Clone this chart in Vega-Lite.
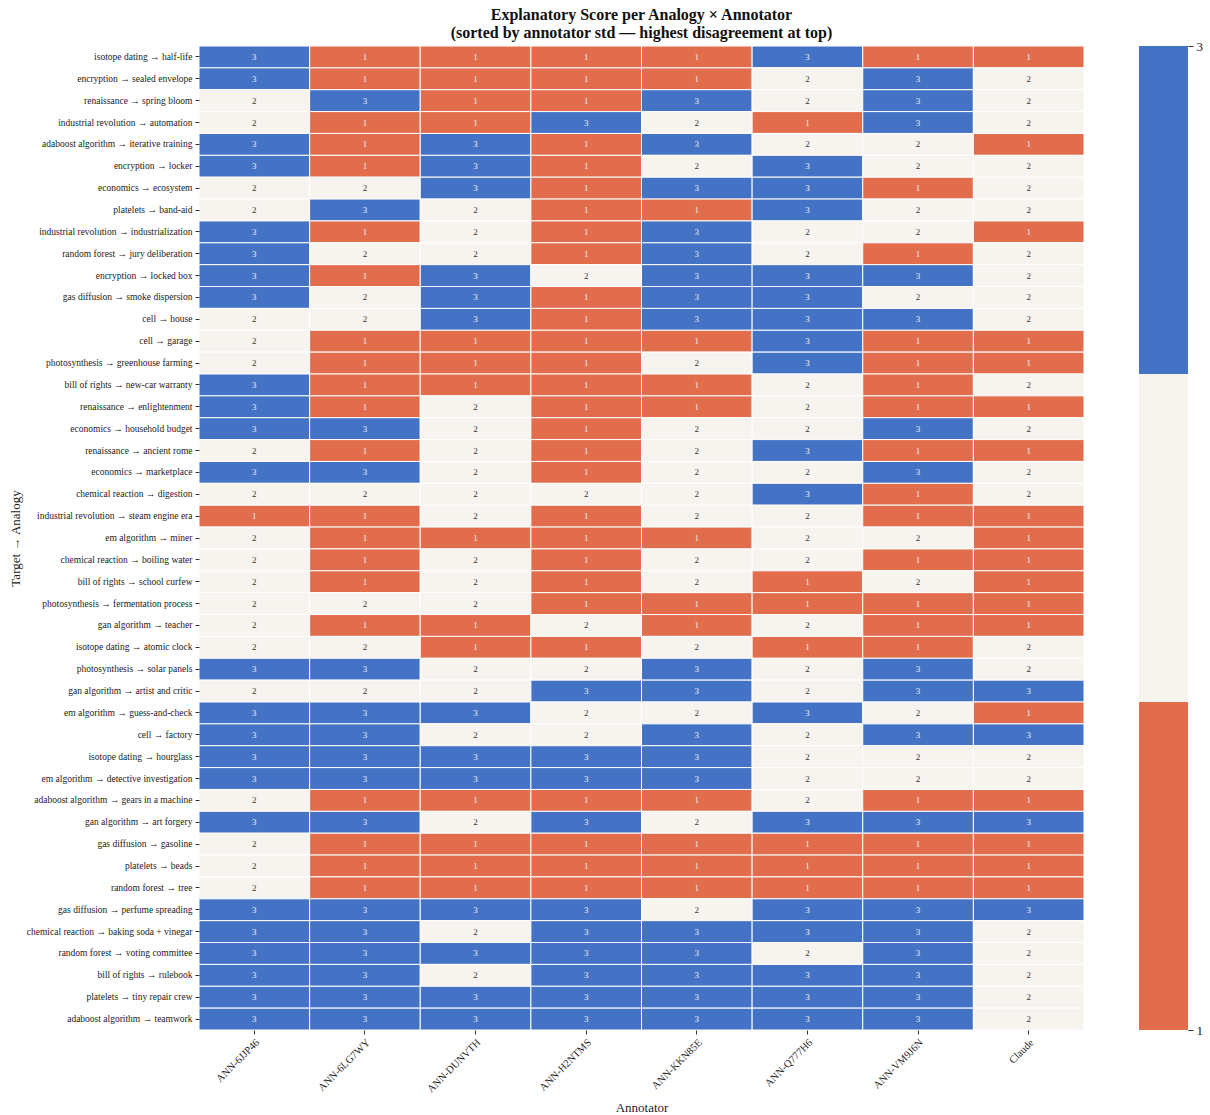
{
  "$schema": "https://vega.github.io/schema/vega-lite/v6.json",
  "padding": {"left": 9, "top": 6, "right": 5, "bottom": 5},
  "background": "white",
  "spacing": 55,
  "bounds": "flush",
  "config": {
    "font": "Liberation Serif",
    "view": {"stroke": null},
    "axis": {"labelFont": "Liberation Serif", "titleFont": "Liberation Serif", "titleFontWeight": "normal", "labelColor": "#222", "titleColor": "#222", "tickColor": "#333", "domain": false, "grid": false}
  },
  "datasets": {
    "bands": [
      {"score": 1, "lo": 1, "hi": 1.6667},
      {"score": 2, "lo": 1.6667, "hi": 2.3333},
      {"score": 3, "lo": 2.3333, "hi": 3}
    ]
  },
  "hconcat": [
    {
      "width": 885,
      "height": 984,
      "title": {
        "text": ["Explanatory Score per Analogy × Annotator", "(sorted by annotator std — highest disagreement at top)"],
        "font": "Liberation Serif",
        "fontSize": 16,
        "fontWeight": "bold",
        "color": "#111",
        "frame": "group",
        "anchor": "middle",
        "offset": 5,
        "lineHeight": 18
      },
      "data": {
        "values": [
          {"analogy": "isotope dating → half-life", "annotator": "ANN-6JJP46", "score": 3},
          {"analogy": "isotope dating → half-life", "annotator": "ANN-6LG7WY", "score": 1},
          {"analogy": "isotope dating → half-life", "annotator": "ANN-DUNVTH", "score": 1},
          {"analogy": "isotope dating → half-life", "annotator": "ANN-H2NTMS", "score": 1},
          {"analogy": "isotope dating → half-life", "annotator": "ANN-KKN85E", "score": 1},
          {"analogy": "isotope dating → half-life", "annotator": "ANN-Q777H6", "score": 3},
          {"analogy": "isotope dating → half-life", "annotator": "ANN-VM9J6N", "score": 1},
          {"analogy": "isotope dating → half-life", "annotator": "Claude", "score": 1},
          {"analogy": "encryption → sealed envelope", "annotator": "ANN-6JJP46", "score": 3},
          {"analogy": "encryption → sealed envelope", "annotator": "ANN-6LG7WY", "score": 1},
          {"analogy": "encryption → sealed envelope", "annotator": "ANN-DUNVTH", "score": 1},
          {"analogy": "encryption → sealed envelope", "annotator": "ANN-H2NTMS", "score": 1},
          {"analogy": "encryption → sealed envelope", "annotator": "ANN-KKN85E", "score": 1},
          {"analogy": "encryption → sealed envelope", "annotator": "ANN-Q777H6", "score": 2},
          {"analogy": "encryption → sealed envelope", "annotator": "ANN-VM9J6N", "score": 3},
          {"analogy": "encryption → sealed envelope", "annotator": "Claude", "score": 2},
          {"analogy": "renaissance → spring bloom", "annotator": "ANN-6JJP46", "score": 2},
          {"analogy": "renaissance → spring bloom", "annotator": "ANN-6LG7WY", "score": 3},
          {"analogy": "renaissance → spring bloom", "annotator": "ANN-DUNVTH", "score": 1},
          {"analogy": "renaissance → spring bloom", "annotator": "ANN-H2NTMS", "score": 1},
          {"analogy": "renaissance → spring bloom", "annotator": "ANN-KKN85E", "score": 3},
          {"analogy": "renaissance → spring bloom", "annotator": "ANN-Q777H6", "score": 2},
          {"analogy": "renaissance → spring bloom", "annotator": "ANN-VM9J6N", "score": 3},
          {"analogy": "renaissance → spring bloom", "annotator": "Claude", "score": 2},
          {"analogy": "industrial revolution → automation", "annotator": "ANN-6JJP46", "score": 2},
          {"analogy": "industrial revolution → automation", "annotator": "ANN-6LG7WY", "score": 1},
          {"analogy": "industrial revolution → automation", "annotator": "ANN-DUNVTH", "score": 1},
          {"analogy": "industrial revolution → automation", "annotator": "ANN-H2NTMS", "score": 3},
          {"analogy": "industrial revolution → automation", "annotator": "ANN-KKN85E", "score": 2},
          {"analogy": "industrial revolution → automation", "annotator": "ANN-Q777H6", "score": 1},
          {"analogy": "industrial revolution → automation", "annotator": "ANN-VM9J6N", "score": 3},
          {"analogy": "industrial revolution → automation", "annotator": "Claude", "score": 2},
          {"analogy": "adaboost algorithm → iterative training", "annotator": "ANN-6JJP46", "score": 3},
          {"analogy": "adaboost algorithm → iterative training", "annotator": "ANN-6LG7WY", "score": 1},
          {"analogy": "adaboost algorithm → iterative training", "annotator": "ANN-DUNVTH", "score": 3},
          {"analogy": "adaboost algorithm → iterative training", "annotator": "ANN-H2NTMS", "score": 1},
          {"analogy": "adaboost algorithm → iterative training", "annotator": "ANN-KKN85E", "score": 3},
          {"analogy": "adaboost algorithm → iterative training", "annotator": "ANN-Q777H6", "score": 2},
          {"analogy": "adaboost algorithm → iterative training", "annotator": "ANN-VM9J6N", "score": 2},
          {"analogy": "adaboost algorithm → iterative training", "annotator": "Claude", "score": 1},
          {"analogy": "encryption → locker", "annotator": "ANN-6JJP46", "score": 3},
          {"analogy": "encryption → locker", "annotator": "ANN-6LG7WY", "score": 1},
          {"analogy": "encryption → locker", "annotator": "ANN-DUNVTH", "score": 3},
          {"analogy": "encryption → locker", "annotator": "ANN-H2NTMS", "score": 1},
          {"analogy": "encryption → locker", "annotator": "ANN-KKN85E", "score": 2},
          {"analogy": "encryption → locker", "annotator": "ANN-Q777H6", "score": 3},
          {"analogy": "encryption → locker", "annotator": "ANN-VM9J6N", "score": 2},
          {"analogy": "encryption → locker", "annotator": "Claude", "score": 2},
          {"analogy": "economics → ecosystem", "annotator": "ANN-6JJP46", "score": 2},
          {"analogy": "economics → ecosystem", "annotator": "ANN-6LG7WY", "score": 2},
          {"analogy": "economics → ecosystem", "annotator": "ANN-DUNVTH", "score": 3},
          {"analogy": "economics → ecosystem", "annotator": "ANN-H2NTMS", "score": 1},
          {"analogy": "economics → ecosystem", "annotator": "ANN-KKN85E", "score": 3},
          {"analogy": "economics → ecosystem", "annotator": "ANN-Q777H6", "score": 3},
          {"analogy": "economics → ecosystem", "annotator": "ANN-VM9J6N", "score": 1},
          {"analogy": "economics → ecosystem", "annotator": "Claude", "score": 2},
          {"analogy": "platelets → band-aid", "annotator": "ANN-6JJP46", "score": 2},
          {"analogy": "platelets → band-aid", "annotator": "ANN-6LG7WY", "score": 3},
          {"analogy": "platelets → band-aid", "annotator": "ANN-DUNVTH", "score": 2},
          {"analogy": "platelets → band-aid", "annotator": "ANN-H2NTMS", "score": 1},
          {"analogy": "platelets → band-aid", "annotator": "ANN-KKN85E", "score": 1},
          {"analogy": "platelets → band-aid", "annotator": "ANN-Q777H6", "score": 3},
          {"analogy": "platelets → band-aid", "annotator": "ANN-VM9J6N", "score": 2},
          {"analogy": "platelets → band-aid", "annotator": "Claude", "score": 2},
          {"analogy": "industrial revolution → industrialization", "annotator": "ANN-6JJP46", "score": 3},
          {"analogy": "industrial revolution → industrialization", "annotator": "ANN-6LG7WY", "score": 1},
          {"analogy": "industrial revolution → industrialization", "annotator": "ANN-DUNVTH", "score": 2},
          {"analogy": "industrial revolution → industrialization", "annotator": "ANN-H2NTMS", "score": 1},
          {"analogy": "industrial revolution → industrialization", "annotator": "ANN-KKN85E", "score": 3},
          {"analogy": "industrial revolution → industrialization", "annotator": "ANN-Q777H6", "score": 2},
          {"analogy": "industrial revolution → industrialization", "annotator": "ANN-VM9J6N", "score": 2},
          {"analogy": "industrial revolution → industrialization", "annotator": "Claude", "score": 1},
          {"analogy": "random forest → jury deliberation", "annotator": "ANN-6JJP46", "score": 3},
          {"analogy": "random forest → jury deliberation", "annotator": "ANN-6LG7WY", "score": 2},
          {"analogy": "random forest → jury deliberation", "annotator": "ANN-DUNVTH", "score": 2},
          {"analogy": "random forest → jury deliberation", "annotator": "ANN-H2NTMS", "score": 1},
          {"analogy": "random forest → jury deliberation", "annotator": "ANN-KKN85E", "score": 3},
          {"analogy": "random forest → jury deliberation", "annotator": "ANN-Q777H6", "score": 2},
          {"analogy": "random forest → jury deliberation", "annotator": "ANN-VM9J6N", "score": 1},
          {"analogy": "random forest → jury deliberation", "annotator": "Claude", "score": 2},
          {"analogy": "encryption → locked box", "annotator": "ANN-6JJP46", "score": 3},
          {"analogy": "encryption → locked box", "annotator": "ANN-6LG7WY", "score": 1},
          {"analogy": "encryption → locked box", "annotator": "ANN-DUNVTH", "score": 3},
          {"analogy": "encryption → locked box", "annotator": "ANN-H2NTMS", "score": 2},
          {"analogy": "encryption → locked box", "annotator": "ANN-KKN85E", "score": 3},
          {"analogy": "encryption → locked box", "annotator": "ANN-Q777H6", "score": 3},
          {"analogy": "encryption → locked box", "annotator": "ANN-VM9J6N", "score": 3},
          {"analogy": "encryption → locked box", "annotator": "Claude", "score": 2},
          {"analogy": "gas diffusion → smoke dispersion", "annotator": "ANN-6JJP46", "score": 3},
          {"analogy": "gas diffusion → smoke dispersion", "annotator": "ANN-6LG7WY", "score": 2},
          {"analogy": "gas diffusion → smoke dispersion", "annotator": "ANN-DUNVTH", "score": 3},
          {"analogy": "gas diffusion → smoke dispersion", "annotator": "ANN-H2NTMS", "score": 1},
          {"analogy": "gas diffusion → smoke dispersion", "annotator": "ANN-KKN85E", "score": 3},
          {"analogy": "gas diffusion → smoke dispersion", "annotator": "ANN-Q777H6", "score": 3},
          {"analogy": "gas diffusion → smoke dispersion", "annotator": "ANN-VM9J6N", "score": 2},
          {"analogy": "gas diffusion → smoke dispersion", "annotator": "Claude", "score": 2},
          {"analogy": "cell → house", "annotator": "ANN-6JJP46", "score": 2},
          {"analogy": "cell → house", "annotator": "ANN-6LG7WY", "score": 2},
          {"analogy": "cell → house", "annotator": "ANN-DUNVTH", "score": 3},
          {"analogy": "cell → house", "annotator": "ANN-H2NTMS", "score": 1},
          {"analogy": "cell → house", "annotator": "ANN-KKN85E", "score": 3},
          {"analogy": "cell → house", "annotator": "ANN-Q777H6", "score": 3},
          {"analogy": "cell → house", "annotator": "ANN-VM9J6N", "score": 3},
          {"analogy": "cell → house", "annotator": "Claude", "score": 2},
          {"analogy": "cell → garage", "annotator": "ANN-6JJP46", "score": 2},
          {"analogy": "cell → garage", "annotator": "ANN-6LG7WY", "score": 1},
          {"analogy": "cell → garage", "annotator": "ANN-DUNVTH", "score": 1},
          {"analogy": "cell → garage", "annotator": "ANN-H2NTMS", "score": 1},
          {"analogy": "cell → garage", "annotator": "ANN-KKN85E", "score": 1},
          {"analogy": "cell → garage", "annotator": "ANN-Q777H6", "score": 3},
          {"analogy": "cell → garage", "annotator": "ANN-VM9J6N", "score": 1},
          {"analogy": "cell → garage", "annotator": "Claude", "score": 1},
          {"analogy": "photosynthesis → greenhouse farming", "annotator": "ANN-6JJP46", "score": 2},
          {"analogy": "photosynthesis → greenhouse farming", "annotator": "ANN-6LG7WY", "score": 1},
          {"analogy": "photosynthesis → greenhouse farming", "annotator": "ANN-DUNVTH", "score": 1},
          {"analogy": "photosynthesis → greenhouse farming", "annotator": "ANN-H2NTMS", "score": 1},
          {"analogy": "photosynthesis → greenhouse farming", "annotator": "ANN-KKN85E", "score": 2},
          {"analogy": "photosynthesis → greenhouse farming", "annotator": "ANN-Q777H6", "score": 3},
          {"analogy": "photosynthesis → greenhouse farming", "annotator": "ANN-VM9J6N", "score": 1},
          {"analogy": "photosynthesis → greenhouse farming", "annotator": "Claude", "score": 1},
          {"analogy": "bill of rights → new-car warranty", "annotator": "ANN-6JJP46", "score": 3},
          {"analogy": "bill of rights → new-car warranty", "annotator": "ANN-6LG7WY", "score": 1},
          {"analogy": "bill of rights → new-car warranty", "annotator": "ANN-DUNVTH", "score": 1},
          {"analogy": "bill of rights → new-car warranty", "annotator": "ANN-H2NTMS", "score": 1},
          {"analogy": "bill of rights → new-car warranty", "annotator": "ANN-KKN85E", "score": 1},
          {"analogy": "bill of rights → new-car warranty", "annotator": "ANN-Q777H6", "score": 2},
          {"analogy": "bill of rights → new-car warranty", "annotator": "ANN-VM9J6N", "score": 1},
          {"analogy": "bill of rights → new-car warranty", "annotator": "Claude", "score": 2},
          {"analogy": "renaissance → enlightenment", "annotator": "ANN-6JJP46", "score": 3},
          {"analogy": "renaissance → enlightenment", "annotator": "ANN-6LG7WY", "score": 1},
          {"analogy": "renaissance → enlightenment", "annotator": "ANN-DUNVTH", "score": 2},
          {"analogy": "renaissance → enlightenment", "annotator": "ANN-H2NTMS", "score": 1},
          {"analogy": "renaissance → enlightenment", "annotator": "ANN-KKN85E", "score": 1},
          {"analogy": "renaissance → enlightenment", "annotator": "ANN-Q777H6", "score": 2},
          {"analogy": "renaissance → enlightenment", "annotator": "ANN-VM9J6N", "score": 1},
          {"analogy": "renaissance → enlightenment", "annotator": "Claude", "score": 1},
          {"analogy": "economics → household budget", "annotator": "ANN-6JJP46", "score": 3},
          {"analogy": "economics → household budget", "annotator": "ANN-6LG7WY", "score": 3},
          {"analogy": "economics → household budget", "annotator": "ANN-DUNVTH", "score": 2},
          {"analogy": "economics → household budget", "annotator": "ANN-H2NTMS", "score": 1},
          {"analogy": "economics → household budget", "annotator": "ANN-KKN85E", "score": 2},
          {"analogy": "economics → household budget", "annotator": "ANN-Q777H6", "score": 2},
          {"analogy": "economics → household budget", "annotator": "ANN-VM9J6N", "score": 3},
          {"analogy": "economics → household budget", "annotator": "Claude", "score": 2},
          {"analogy": "renaissance → ancient rome", "annotator": "ANN-6JJP46", "score": 2},
          {"analogy": "renaissance → ancient rome", "annotator": "ANN-6LG7WY", "score": 1},
          {"analogy": "renaissance → ancient rome", "annotator": "ANN-DUNVTH", "score": 2},
          {"analogy": "renaissance → ancient rome", "annotator": "ANN-H2NTMS", "score": 1},
          {"analogy": "renaissance → ancient rome", "annotator": "ANN-KKN85E", "score": 2},
          {"analogy": "renaissance → ancient rome", "annotator": "ANN-Q777H6", "score": 3},
          {"analogy": "renaissance → ancient rome", "annotator": "ANN-VM9J6N", "score": 1},
          {"analogy": "renaissance → ancient rome", "annotator": "Claude", "score": 1},
          {"analogy": "economics → marketplace", "annotator": "ANN-6JJP46", "score": 3},
          {"analogy": "economics → marketplace", "annotator": "ANN-6LG7WY", "score": 3},
          {"analogy": "economics → marketplace", "annotator": "ANN-DUNVTH", "score": 2},
          {"analogy": "economics → marketplace", "annotator": "ANN-H2NTMS", "score": 1},
          {"analogy": "economics → marketplace", "annotator": "ANN-KKN85E", "score": 2},
          {"analogy": "economics → marketplace", "annotator": "ANN-Q777H6", "score": 2},
          {"analogy": "economics → marketplace", "annotator": "ANN-VM9J6N", "score": 3},
          {"analogy": "economics → marketplace", "annotator": "Claude", "score": 2},
          {"analogy": "chemical reaction → digestion", "annotator": "ANN-6JJP46", "score": 2},
          {"analogy": "chemical reaction → digestion", "annotator": "ANN-6LG7WY", "score": 2},
          {"analogy": "chemical reaction → digestion", "annotator": "ANN-DUNVTH", "score": 2},
          {"analogy": "chemical reaction → digestion", "annotator": "ANN-H2NTMS", "score": 2},
          {"analogy": "chemical reaction → digestion", "annotator": "ANN-KKN85E", "score": 2},
          {"analogy": "chemical reaction → digestion", "annotator": "ANN-Q777H6", "score": 3},
          {"analogy": "chemical reaction → digestion", "annotator": "ANN-VM9J6N", "score": 1},
          {"analogy": "chemical reaction → digestion", "annotator": "Claude", "score": 2},
          {"analogy": "industrial revolution → steam engine era", "annotator": "ANN-6JJP46", "score": 1},
          {"analogy": "industrial revolution → steam engine era", "annotator": "ANN-6LG7WY", "score": 1},
          {"analogy": "industrial revolution → steam engine era", "annotator": "ANN-DUNVTH", "score": 2},
          {"analogy": "industrial revolution → steam engine era", "annotator": "ANN-H2NTMS", "score": 1},
          {"analogy": "industrial revolution → steam engine era", "annotator": "ANN-KKN85E", "score": 2},
          {"analogy": "industrial revolution → steam engine era", "annotator": "ANN-Q777H6", "score": 2},
          {"analogy": "industrial revolution → steam engine era", "annotator": "ANN-VM9J6N", "score": 1},
          {"analogy": "industrial revolution → steam engine era", "annotator": "Claude", "score": 1},
          {"analogy": "em algorithm → miner", "annotator": "ANN-6JJP46", "score": 2},
          {"analogy": "em algorithm → miner", "annotator": "ANN-6LG7WY", "score": 1},
          {"analogy": "em algorithm → miner", "annotator": "ANN-DUNVTH", "score": 1},
          {"analogy": "em algorithm → miner", "annotator": "ANN-H2NTMS", "score": 1},
          {"analogy": "em algorithm → miner", "annotator": "ANN-KKN85E", "score": 1},
          {"analogy": "em algorithm → miner", "annotator": "ANN-Q777H6", "score": 2},
          {"analogy": "em algorithm → miner", "annotator": "ANN-VM9J6N", "score": 2},
          {"analogy": "em algorithm → miner", "annotator": "Claude", "score": 1},
          {"analogy": "chemical reaction → boiling water", "annotator": "ANN-6JJP46", "score": 2},
          {"analogy": "chemical reaction → boiling water", "annotator": "ANN-6LG7WY", "score": 1},
          {"analogy": "chemical reaction → boiling water", "annotator": "ANN-DUNVTH", "score": 2},
          {"analogy": "chemical reaction → boiling water", "annotator": "ANN-H2NTMS", "score": 1},
          {"analogy": "chemical reaction → boiling water", "annotator": "ANN-KKN85E", "score": 2},
          {"analogy": "chemical reaction → boiling water", "annotator": "ANN-Q777H6", "score": 2},
          {"analogy": "chemical reaction → boiling water", "annotator": "ANN-VM9J6N", "score": 1},
          {"analogy": "chemical reaction → boiling water", "annotator": "Claude", "score": 1},
          {"analogy": "bill of rights → school curfew", "annotator": "ANN-6JJP46", "score": 2},
          {"analogy": "bill of rights → school curfew", "annotator": "ANN-6LG7WY", "score": 1},
          {"analogy": "bill of rights → school curfew", "annotator": "ANN-DUNVTH", "score": 2},
          {"analogy": "bill of rights → school curfew", "annotator": "ANN-H2NTMS", "score": 1},
          {"analogy": "bill of rights → school curfew", "annotator": "ANN-KKN85E", "score": 2},
          {"analogy": "bill of rights → school curfew", "annotator": "ANN-Q777H6", "score": 1},
          {"analogy": "bill of rights → school curfew", "annotator": "ANN-VM9J6N", "score": 2},
          {"analogy": "bill of rights → school curfew", "annotator": "Claude", "score": 1},
          {"analogy": "photosynthesis → fermentation process", "annotator": "ANN-6JJP46", "score": 2},
          {"analogy": "photosynthesis → fermentation process", "annotator": "ANN-6LG7WY", "score": 2},
          {"analogy": "photosynthesis → fermentation process", "annotator": "ANN-DUNVTH", "score": 2},
          {"analogy": "photosynthesis → fermentation process", "annotator": "ANN-H2NTMS", "score": 1},
          {"analogy": "photosynthesis → fermentation process", "annotator": "ANN-KKN85E", "score": 1},
          {"analogy": "photosynthesis → fermentation process", "annotator": "ANN-Q777H6", "score": 1},
          {"analogy": "photosynthesis → fermentation process", "annotator": "ANN-VM9J6N", "score": 1},
          {"analogy": "photosynthesis → fermentation process", "annotator": "Claude", "score": 1},
          {"analogy": "gan algorithm → teacher", "annotator": "ANN-6JJP46", "score": 2},
          {"analogy": "gan algorithm → teacher", "annotator": "ANN-6LG7WY", "score": 1},
          {"analogy": "gan algorithm → teacher", "annotator": "ANN-DUNVTH", "score": 1},
          {"analogy": "gan algorithm → teacher", "annotator": "ANN-H2NTMS", "score": 2},
          {"analogy": "gan algorithm → teacher", "annotator": "ANN-KKN85E", "score": 1},
          {"analogy": "gan algorithm → teacher", "annotator": "ANN-Q777H6", "score": 2},
          {"analogy": "gan algorithm → teacher", "annotator": "ANN-VM9J6N", "score": 1},
          {"analogy": "gan algorithm → teacher", "annotator": "Claude", "score": 1},
          {"analogy": "isotope dating → atomic clock", "annotator": "ANN-6JJP46", "score": 2},
          {"analogy": "isotope dating → atomic clock", "annotator": "ANN-6LG7WY", "score": 2},
          {"analogy": "isotope dating → atomic clock", "annotator": "ANN-DUNVTH", "score": 1},
          {"analogy": "isotope dating → atomic clock", "annotator": "ANN-H2NTMS", "score": 1},
          {"analogy": "isotope dating → atomic clock", "annotator": "ANN-KKN85E", "score": 2},
          {"analogy": "isotope dating → atomic clock", "annotator": "ANN-Q777H6", "score": 1},
          {"analogy": "isotope dating → atomic clock", "annotator": "ANN-VM9J6N", "score": 1},
          {"analogy": "isotope dating → atomic clock", "annotator": "Claude", "score": 2},
          {"analogy": "photosynthesis → solar panels", "annotator": "ANN-6JJP46", "score": 3},
          {"analogy": "photosynthesis → solar panels", "annotator": "ANN-6LG7WY", "score": 3},
          {"analogy": "photosynthesis → solar panels", "annotator": "ANN-DUNVTH", "score": 2},
          {"analogy": "photosynthesis → solar panels", "annotator": "ANN-H2NTMS", "score": 2},
          {"analogy": "photosynthesis → solar panels", "annotator": "ANN-KKN85E", "score": 3},
          {"analogy": "photosynthesis → solar panels", "annotator": "ANN-Q777H6", "score": 2},
          {"analogy": "photosynthesis → solar panels", "annotator": "ANN-VM9J6N", "score": 3},
          {"analogy": "photosynthesis → solar panels", "annotator": "Claude", "score": 2},
          {"analogy": "gan algorithm → artist and critic", "annotator": "ANN-6JJP46", "score": 2},
          {"analogy": "gan algorithm → artist and critic", "annotator": "ANN-6LG7WY", "score": 2},
          {"analogy": "gan algorithm → artist and critic", "annotator": "ANN-DUNVTH", "score": 2},
          {"analogy": "gan algorithm → artist and critic", "annotator": "ANN-H2NTMS", "score": 3},
          {"analogy": "gan algorithm → artist and critic", "annotator": "ANN-KKN85E", "score": 3},
          {"analogy": "gan algorithm → artist and critic", "annotator": "ANN-Q777H6", "score": 2},
          {"analogy": "gan algorithm → artist and critic", "annotator": "ANN-VM9J6N", "score": 3},
          {"analogy": "gan algorithm → artist and critic", "annotator": "Claude", "score": 3},
          {"analogy": "em algorithm → guess-and-check", "annotator": "ANN-6JJP46", "score": 3},
          {"analogy": "em algorithm → guess-and-check", "annotator": "ANN-6LG7WY", "score": 3},
          {"analogy": "em algorithm → guess-and-check", "annotator": "ANN-DUNVTH", "score": 3},
          {"analogy": "em algorithm → guess-and-check", "annotator": "ANN-H2NTMS", "score": 2},
          {"analogy": "em algorithm → guess-and-check", "annotator": "ANN-KKN85E", "score": 2},
          {"analogy": "em algorithm → guess-and-check", "annotator": "ANN-Q777H6", "score": 3},
          {"analogy": "em algorithm → guess-and-check", "annotator": "ANN-VM9J6N", "score": 2},
          {"analogy": "em algorithm → guess-and-check", "annotator": "Claude", "score": 1},
          {"analogy": "cell → factory", "annotator": "ANN-6JJP46", "score": 3},
          {"analogy": "cell → factory", "annotator": "ANN-6LG7WY", "score": 3},
          {"analogy": "cell → factory", "annotator": "ANN-DUNVTH", "score": 2},
          {"analogy": "cell → factory", "annotator": "ANN-H2NTMS", "score": 2},
          {"analogy": "cell → factory", "annotator": "ANN-KKN85E", "score": 3},
          {"analogy": "cell → factory", "annotator": "ANN-Q777H6", "score": 2},
          {"analogy": "cell → factory", "annotator": "ANN-VM9J6N", "score": 3},
          {"analogy": "cell → factory", "annotator": "Claude", "score": 3},
          {"analogy": "isotope dating → hourglass", "annotator": "ANN-6JJP46", "score": 3},
          {"analogy": "isotope dating → hourglass", "annotator": "ANN-6LG7WY", "score": 3},
          {"analogy": "isotope dating → hourglass", "annotator": "ANN-DUNVTH", "score": 3},
          {"analogy": "isotope dating → hourglass", "annotator": "ANN-H2NTMS", "score": 3},
          {"analogy": "isotope dating → hourglass", "annotator": "ANN-KKN85E", "score": 3},
          {"analogy": "isotope dating → hourglass", "annotator": "ANN-Q777H6", "score": 2},
          {"analogy": "isotope dating → hourglass", "annotator": "ANN-VM9J6N", "score": 2},
          {"analogy": "isotope dating → hourglass", "annotator": "Claude", "score": 2},
          {"analogy": "em algorithm → detective investigation", "annotator": "ANN-6JJP46", "score": 3},
          {"analogy": "em algorithm → detective investigation", "annotator": "ANN-6LG7WY", "score": 3},
          {"analogy": "em algorithm → detective investigation", "annotator": "ANN-DUNVTH", "score": 3},
          {"analogy": "em algorithm → detective investigation", "annotator": "ANN-H2NTMS", "score": 3},
          {"analogy": "em algorithm → detective investigation", "annotator": "ANN-KKN85E", "score": 3},
          {"analogy": "em algorithm → detective investigation", "annotator": "ANN-Q777H6", "score": 2},
          {"analogy": "em algorithm → detective investigation", "annotator": "ANN-VM9J6N", "score": 2},
          {"analogy": "em algorithm → detective investigation", "annotator": "Claude", "score": 2},
          {"analogy": "adaboost algorithm → gears in a machine", "annotator": "ANN-6JJP46", "score": 2},
          {"analogy": "adaboost algorithm → gears in a machine", "annotator": "ANN-6LG7WY", "score": 1},
          {"analogy": "adaboost algorithm → gears in a machine", "annotator": "ANN-DUNVTH", "score": 1},
          {"analogy": "adaboost algorithm → gears in a machine", "annotator": "ANN-H2NTMS", "score": 1},
          {"analogy": "adaboost algorithm → gears in a machine", "annotator": "ANN-KKN85E", "score": 1},
          {"analogy": "adaboost algorithm → gears in a machine", "annotator": "ANN-Q777H6", "score": 2},
          {"analogy": "adaboost algorithm → gears in a machine", "annotator": "ANN-VM9J6N", "score": 1},
          {"analogy": "adaboost algorithm → gears in a machine", "annotator": "Claude", "score": 1},
          {"analogy": "gan algorithm → art forgery", "annotator": "ANN-6JJP46", "score": 3},
          {"analogy": "gan algorithm → art forgery", "annotator": "ANN-6LG7WY", "score": 3},
          {"analogy": "gan algorithm → art forgery", "annotator": "ANN-DUNVTH", "score": 2},
          {"analogy": "gan algorithm → art forgery", "annotator": "ANN-H2NTMS", "score": 3},
          {"analogy": "gan algorithm → art forgery", "annotator": "ANN-KKN85E", "score": 2},
          {"analogy": "gan algorithm → art forgery", "annotator": "ANN-Q777H6", "score": 3},
          {"analogy": "gan algorithm → art forgery", "annotator": "ANN-VM9J6N", "score": 3},
          {"analogy": "gan algorithm → art forgery", "annotator": "Claude", "score": 3},
          {"analogy": "gas diffusion → gasoline", "annotator": "ANN-6JJP46", "score": 2},
          {"analogy": "gas diffusion → gasoline", "annotator": "ANN-6LG7WY", "score": 1},
          {"analogy": "gas diffusion → gasoline", "annotator": "ANN-DUNVTH", "score": 1},
          {"analogy": "gas diffusion → gasoline", "annotator": "ANN-H2NTMS", "score": 1},
          {"analogy": "gas diffusion → gasoline", "annotator": "ANN-KKN85E", "score": 1},
          {"analogy": "gas diffusion → gasoline", "annotator": "ANN-Q777H6", "score": 1},
          {"analogy": "gas diffusion → gasoline", "annotator": "ANN-VM9J6N", "score": 1},
          {"analogy": "gas diffusion → gasoline", "annotator": "Claude", "score": 1},
          {"analogy": "platelets → beads", "annotator": "ANN-6JJP46", "score": 2},
          {"analogy": "platelets → beads", "annotator": "ANN-6LG7WY", "score": 1},
          {"analogy": "platelets → beads", "annotator": "ANN-DUNVTH", "score": 1},
          {"analogy": "platelets → beads", "annotator": "ANN-H2NTMS", "score": 1},
          {"analogy": "platelets → beads", "annotator": "ANN-KKN85E", "score": 1},
          {"analogy": "platelets → beads", "annotator": "ANN-Q777H6", "score": 1},
          {"analogy": "platelets → beads", "annotator": "ANN-VM9J6N", "score": 1},
          {"analogy": "platelets → beads", "annotator": "Claude", "score": 1},
          {"analogy": "random forest → tree", "annotator": "ANN-6JJP46", "score": 2},
          {"analogy": "random forest → tree", "annotator": "ANN-6LG7WY", "score": 1},
          {"analogy": "random forest → tree", "annotator": "ANN-DUNVTH", "score": 1},
          {"analogy": "random forest → tree", "annotator": "ANN-H2NTMS", "score": 1},
          {"analogy": "random forest → tree", "annotator": "ANN-KKN85E", "score": 1},
          {"analogy": "random forest → tree", "annotator": "ANN-Q777H6", "score": 1},
          {"analogy": "random forest → tree", "annotator": "ANN-VM9J6N", "score": 1},
          {"analogy": "random forest → tree", "annotator": "Claude", "score": 1},
          {"analogy": "gas diffusion → perfume spreading", "annotator": "ANN-6JJP46", "score": 3},
          {"analogy": "gas diffusion → perfume spreading", "annotator": "ANN-6LG7WY", "score": 3},
          {"analogy": "gas diffusion → perfume spreading", "annotator": "ANN-DUNVTH", "score": 3},
          {"analogy": "gas diffusion → perfume spreading", "annotator": "ANN-H2NTMS", "score": 3},
          {"analogy": "gas diffusion → perfume spreading", "annotator": "ANN-KKN85E", "score": 2},
          {"analogy": "gas diffusion → perfume spreading", "annotator": "ANN-Q777H6", "score": 3},
          {"analogy": "gas diffusion → perfume spreading", "annotator": "ANN-VM9J6N", "score": 3},
          {"analogy": "gas diffusion → perfume spreading", "annotator": "Claude", "score": 3},
          {"analogy": "chemical reaction → baking soda + vinegar", "annotator": "ANN-6JJP46", "score": 3},
          {"analogy": "chemical reaction → baking soda + vinegar", "annotator": "ANN-6LG7WY", "score": 3},
          {"analogy": "chemical reaction → baking soda + vinegar", "annotator": "ANN-DUNVTH", "score": 2},
          {"analogy": "chemical reaction → baking soda + vinegar", "annotator": "ANN-H2NTMS", "score": 3},
          {"analogy": "chemical reaction → baking soda + vinegar", "annotator": "ANN-KKN85E", "score": 3},
          {"analogy": "chemical reaction → baking soda + vinegar", "annotator": "ANN-Q777H6", "score": 3},
          {"analogy": "chemical reaction → baking soda + vinegar", "annotator": "ANN-VM9J6N", "score": 3},
          {"analogy": "chemical reaction → baking soda + vinegar", "annotator": "Claude", "score": 2},
          {"analogy": "random forest → voting committee", "annotator": "ANN-6JJP46", "score": 3},
          {"analogy": "random forest → voting committee", "annotator": "ANN-6LG7WY", "score": 3},
          {"analogy": "random forest → voting committee", "annotator": "ANN-DUNVTH", "score": 3},
          {"analogy": "random forest → voting committee", "annotator": "ANN-H2NTMS", "score": 3},
          {"analogy": "random forest → voting committee", "annotator": "ANN-KKN85E", "score": 3},
          {"analogy": "random forest → voting committee", "annotator": "ANN-Q777H6", "score": 2},
          {"analogy": "random forest → voting committee", "annotator": "ANN-VM9J6N", "score": 3},
          {"analogy": "random forest → voting committee", "annotator": "Claude", "score": 2},
          {"analogy": "bill of rights → rulebook", "annotator": "ANN-6JJP46", "score": 3},
          {"analogy": "bill of rights → rulebook", "annotator": "ANN-6LG7WY", "score": 3},
          {"analogy": "bill of rights → rulebook", "annotator": "ANN-DUNVTH", "score": 2},
          {"analogy": "bill of rights → rulebook", "annotator": "ANN-H2NTMS", "score": 3},
          {"analogy": "bill of rights → rulebook", "annotator": "ANN-KKN85E", "score": 3},
          {"analogy": "bill of rights → rulebook", "annotator": "ANN-Q777H6", "score": 3},
          {"analogy": "bill of rights → rulebook", "annotator": "ANN-VM9J6N", "score": 3},
          {"analogy": "bill of rights → rulebook", "annotator": "Claude", "score": 2},
          {"analogy": "platelets → tiny repair crew", "annotator": "ANN-6JJP46", "score": 3},
          {"analogy": "platelets → tiny repair crew", "annotator": "ANN-6LG7WY", "score": 3},
          {"analogy": "platelets → tiny repair crew", "annotator": "ANN-DUNVTH", "score": 3},
          {"analogy": "platelets → tiny repair crew", "annotator": "ANN-H2NTMS", "score": 3},
          {"analogy": "platelets → tiny repair crew", "annotator": "ANN-KKN85E", "score": 3},
          {"analogy": "platelets → tiny repair crew", "annotator": "ANN-Q777H6", "score": 3},
          {"analogy": "platelets → tiny repair crew", "annotator": "ANN-VM9J6N", "score": 3},
          {"analogy": "platelets → tiny repair crew", "annotator": "Claude", "score": 2},
          {"analogy": "adaboost algorithm → teamwork", "annotator": "ANN-6JJP46", "score": 3},
          {"analogy": "adaboost algorithm → teamwork", "annotator": "ANN-6LG7WY", "score": 3},
          {"analogy": "adaboost algorithm → teamwork", "annotator": "ANN-DUNVTH", "score": 3},
          {"analogy": "adaboost algorithm → teamwork", "annotator": "ANN-H2NTMS", "score": 3},
          {"analogy": "adaboost algorithm → teamwork", "annotator": "ANN-KKN85E", "score": 3},
          {"analogy": "adaboost algorithm → teamwork", "annotator": "ANN-Q777H6", "score": 3},
          {"analogy": "adaboost algorithm → teamwork", "annotator": "ANN-VM9J6N", "score": 3},
          {"analogy": "adaboost algorithm → teamwork", "annotator": "Claude", "score": 2}
        ]
      },
      "encoding": {
        "x": {
          "field": "annotator", "type": "nominal", "sort": null,
          "scale": {"paddingInner": 0, "paddingOuter": 0},
          "axis": {"title": "Annotator", "labelAngle": -45, "labelFontSize": 10.5, "titleFontSize": 13, "tickSize": 4, "labelPadding": 3, "titlePadding": 7}
        },
        "y": {
          "field": "analogy", "type": "nominal", "sort": null,
          "scale": {"paddingInner": 0, "paddingOuter": 0},
          "axis": {"title": "Target → Analogy", "labelFontSize": 9.5, "titleFontSize": 13, "tickSize": 4, "labelPadding": 3, "titlePadding": 4, "labelLimit": 300}
        }
      },
      "layer": [
        {
          "mark": {"type": "rect", "stroke": "white", "strokeWidth": 1},
          "encoding": {
            "color": {
              "field": "score", "type": "ordinal",
              "scale": {"domain": [1, 2, 3], "range": ["#E16D4D", "#F7F3EE", "#4472C4"]},
              "legend": null
            }
          }
        },
        {
          "mark": {"type": "text", "fontSize": 9, "font": "Liberation Serif"},
          "encoding": {
            "text": {"field": "score", "type": "quantitative"},
            "color": {"condition": {"test": "datum.score == 2", "value": "#333333"}, "value": "#EEEEEE"}
          }
        }
      ]
    },
    {
      "width": 49,
      "height": 984,
      "data": {"name": "bands"},
      "mark": {"type": "rect"},
      "encoding": {
        "y": {
          "field": "lo", "type": "quantitative",
          "scale": {"domain": [1, 3], "nice": false, "zero": false},
          "axis": {"orient": "right", "values": [1, 2, 3], "title": null, "labelFontSize": 13, "tickSize": 5, "labelPadding": 3, "format": "d"}
        },
        "y2": {"field": "hi"},
        "color": {
          "field": "score", "type": "ordinal",
          "scale": {"domain": [1, 2, 3], "range": ["#E16D4D", "#F7F3EE", "#4472C4"]},
          "legend": null
        }
      }
    }
  ]
}
